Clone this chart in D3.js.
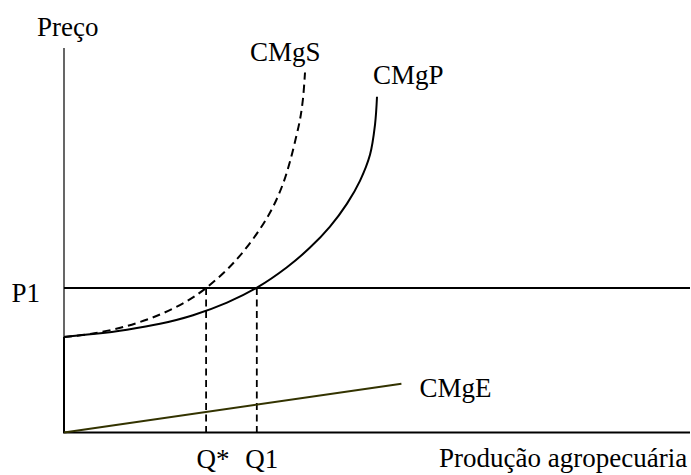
<!DOCTYPE html>
<html>
<head>
<meta charset="utf-8">
<script src="https://cdn.jsdelivr.net/npm/d3@7"></script>
<style>
  html, body { margin: 0; padding: 0; background: #fff; }
  svg { display: block; }
</style>
</head>
<body>
<svg id="chart" width="691" height="475"></svg>
<script>
// ---- Data (quantity units 0..100, price units 0..100) ----
const qCMgP = [0, 4.63, 10.06, 15.34, 20.61, 26.04, 30.83, 35.62, 39.30, 42.49, 45.21, 47.28, 48.88, 49.68, 50.0];
const cCMgP = [24.84, 25.59, 26.74, 28.27, 30.51, 33.78, 37.69, 42.99, 48.09, 53.55, 59.53, 65.46, 72.22, 80.03, 87.31];

const qCMgS = [0, 4.63, 10.06, 15.34, 19.65, 22.68, 26.04, 28.59, 31.31, 33.39, 34.98, 36.10, 37.06, 37.70, 38.18, 38.50];
const cCMgS = [24.84, 25.75, 27.70, 30.69, 34.20, 37.56, 42.37, 46.94, 52.93, 58.67, 64.66, 70.48, 76.72, 81.40, 86.87, 93.63];

const qCMgE = [0, 53.9];
const cCMgE = [0, 12.7];

const priceP1 = 37.6;
const qStar = 22.7;
const q1 = 30.8;

const curveLabels = ["CMgS", "CMgP", "CMgE"];
const axisLabels = { y: "Preço", x: "Produção agropecuária" };
const tickLabels = ["Q*", "Q1", "P1"];

// ---- Scales ----
const x = d3.scaleLinear().domain([0, 100]).range([64, 690]);
const y = d3.scaleLinear().domain([0, 100]).range([432.5, 48]);

const svg = d3.select("#chart")
  .attr("font-family", "'Liberation Serif', 'Times New Roman', Tinos, 'DejaVu Serif', serif")
  .attr("font-size", 27);

// Axes
svg.append("line")
  .attr("x1", x(0)).attr("x2", x(0))
  .attr("y1", y(100)).attr("y2", y(0))
  .attr("stroke", "#000").attr("stroke-width", 1.2);
svg.append("line")
  .attr("x1", x(0)).attr("x2", x(0))
  .attr("y1", y(cCMgP[0])).attr("y2", y(0))
  .attr("stroke", "#000").attr("stroke-width", 2);
svg.append("line")
  .attr("x1", x(0) - 1).attr("x2", x(100))
  .attr("y1", y(0)).attr("y2", y(0))
  .attr("stroke", "#000").attr("stroke-width", 2);

// P1 line
svg.append("line")
  .attr("x1", x(0)).attr("x2", x(100))
  .attr("y1", y(priceP1)).attr("y2", y(priceP1))
  .attr("stroke", "#000").attr("stroke-width", 2);

// dashed verticals
[qStar, q1].forEach(q => {
  svg.append("line")
    .attr("x1", x(q)).attr("x2", x(q))
    .attr("y1", y(priceP1)).attr("y2", y(0))
    .attr("stroke", "#000").attr("stroke-width", 1.8)
    .attr("stroke-dasharray", "7,4.5");
});

const line = d3.line()
  .x(d => x(d[0])).y(d => y(d[1]))
  .curve(d3.curveCatmullRom.alpha(0.5));

// CMgE
svg.append("path")
  .attr("d", line(qCMgE.map((q, i) => [q, cCMgE[i]])))
  .attr("fill", "none").attr("stroke", "#333300").attr("stroke-width", 2);

// CMgP
svg.append("path")
  .attr("d", line(qCMgP.map((q, i) => [q, cCMgP[i]])))
  .attr("fill", "none").attr("stroke", "#000").attr("stroke-width", 2);

// CMgS dashed
svg.append("path")
  .attr("d", line(qCMgS.map((q, i) => [q, cCMgS[i]])))
  .attr("fill", "none").attr("stroke", "#000").attr("stroke-width", 2)
  .attr("stroke-dasharray", "8,5");

// Labels
const t = (xx, yy, s, anchor) => svg.append("text")
  .attr("x", xx).attr("y", yy)
  .attr("text-anchor", anchor || "start")
  .attr("fill", "#000")
  .attr("font-family", "'Liberation Serif', 'Times New Roman', Tinos, 'DejaVu Serif', serif")
  .attr("font-size", 27)
  .text(s);

t(37, 36, axisLabels.y);
t(439, 467, axisLabels.x);
t(x(qCMgS[qCMgS.length - 1]) - 55, 61, curveLabels[0]);
t(x(qCMgP[qCMgP.length - 1]) - 4, 84, curveLabels[1]);
t(x(qCMgE[1]) + 18, 397, curveLabels[2]);
t(x(qStar) + 7, 468, tickLabels[0], "middle");
t(x(q1) + 5, 468, tickLabels[1], "middle");
t(40, 302, tickLabels[2], "end");
</script>
</body>
</html>
